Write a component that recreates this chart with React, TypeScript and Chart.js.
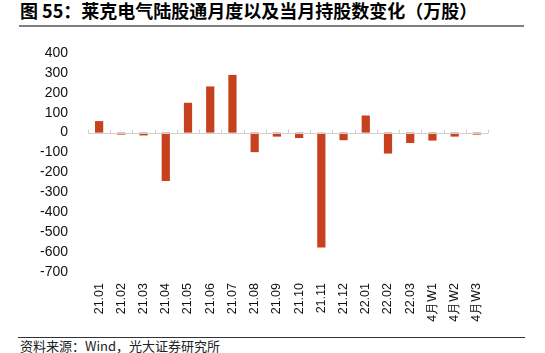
import React, { useEffect, useRef } from "react";
import { Chart, registerables } from "chart.js";

Chart.register(...registerables);

const categories = [
  "21.01", "21.02", "21.03", "21.04", "21.05", "21.06", "21.07", "21.08", "21.09",
  "21.10", "21.11", "21.12", "22.01", "22.02", "22.03", "4月W1", "4月W2", "4月W3",
];
const values = [58, -10, -14, -243, 150, 232, 290, -98, -20, -27, -577, -38, 86, -105, -52, -40, -20, -10];
const yMin = -700;
const yMax = 400;
const yStep = 100;

const titleText = "图 55：莱克电气陆股通月度以及当月持股数变化（万股）";
const sourceText = "资料来源：Wind，光大证券研究所";

const zeroLinePlugin = {
  id: "zeroLine",
  afterDatasetsDraw(chart: any) {
    const { ctx, chartArea, scales } = chart;
    const x = scales.x;
    const y = scales.y;
    const y0 = Math.round(y.getPixelForValue(0)) + 0.5;
    ctx.save();
    ctx.strokeStyle = "#d0d0d0";
    ctx.lineWidth = 1;
    ctx.beginPath();
    ctx.moveTo(chartArea.left, y0);
    ctx.lineTo(chartArea.right, y0);
    const n = categories.length;
    const step = (chartArea.right - chartArea.left) / n;
    for (let i = 0; i <= n; i++) {
      const px = Math.round(x.getPixelForValue(0) - step / 2 + i * step) + 0.5;
      ctx.moveTo(px, y0);
      ctx.lineTo(px, y0 - 4);
    }
    ctx.stroke();
    ctx.restore();
  },
};

export default function App() {
  const ref = useRef<HTMLCanvasElement>(null);
  useEffect(() => {
    if (!ref.current) return;
    const chart = new Chart(ref.current, {
      type: "bar",
      data: {
        labels: categories,
        datasets: [
          {
            data: values,
            backgroundColor: "#C7411E",
            categoryPercentage: 1,
            barPercentage: 0.37,
          },
        ],
      },
      options: {
        animation: false,
        responsive: false,
        maintainAspectRatio: false,
        layout: { padding: { top: 23, right: 57, left: 0, bottom: 0 } },
        plugins: { legend: { display: false }, tooltip: { enabled: false } },
        scales: {
          x: {
            grid: { display: false },
            border: { display: false },
            ticks: {
              minRotation: 90,
              maxRotation: 90,
              autoSkip: false,
              padding: 3,
              color: "#111",
              font: { family: "'Liberation Sans', Arial, sans-serif", size: 12.5 },
            },
            afterFit: (s: any) => {
              s.height = 58;
            },
          },
          y: {
            min: yMin,
            max: yMax,
            grid: { display: false },
            border: { display: false },
            ticks: {
              stepSize: yStep,
              padding: 12,
              color: "#111",
              font: { family: "'Liberation Sans', Arial, sans-serif", size: 14 },
            },
            afterFit: (s: any) => {
              s.width = 88;
            },
          },
        },
      },
      plugins: [zeroLinePlugin],
    });
    return () => chart.destroy();
  }, []);

  return (
    <div style={{ position: "fixed", left: 0, top: 0, width: 545, height: 353, background: "#fff", overflow: "hidden" }}>
      <div
        style={{
          position: "absolute",
          left: 20,
          top: -1,
          fontFamily: "'Noto Sans CJK SC', sans-serif",
          fontWeight: 700,
          fontSize: 18,
          lineHeight: "22px",
          color: "#000",
          whiteSpace: "nowrap",
        }}
      >
        {titleText}
      </div>
      <div style={{ position: "absolute", left: 19, top: 25, width: 505, height: 2, background: "#808080" }} />
      <canvas ref={ref} width={545} height={300} style={{ position: "absolute", left: 0, top: 30, width: 545, height: 300 }} />
      <div style={{ position: "absolute", left: 18, top: 337, width: 507, height: 1, background: "#333" }} />
      <div
        style={{
          position: "absolute",
          left: 20,
          top: 338,
          fontFamily: "'Noto Sans CJK SC', sans-serif",
          fontSize: 13,
          lineHeight: "16px",
          color: "#222",
          whiteSpace: "nowrap",
        }}
      >
        {sourceText}
      </div>
    </div>
  );
}
